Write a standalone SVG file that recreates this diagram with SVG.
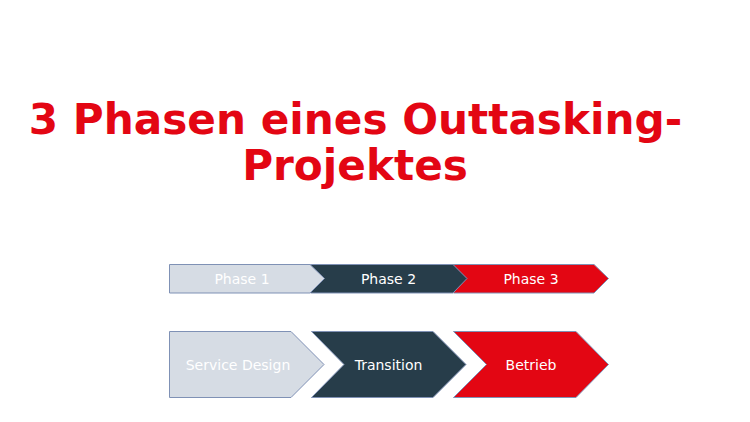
<svg xmlns="http://www.w3.org/2000/svg" width="750" height="422" viewBox="0 0 750 422">
<style>
.title{font-family:"DejaVu Sans",sans-serif;font-weight:bold;font-size:42.2px;fill:#E30613;text-anchor:middle}
.lbl{font-family:"DejaVu Sans",sans-serif;font-size:14px;fill:#FFFFFF;text-anchor:middle}
.light{fill:#D6DCE4;stroke:#7F91B5;stroke-width:1}
.dark{fill:#273D4A;stroke:#7F91B5;stroke-width:1}
.red{fill:#E30613;stroke:#7F91B5;stroke-width:1}
</style>
<rect width="750" height="422" fill="#FFFFFF"/>
<g id="title">
<text class="title" x="355.5" y="134">3 Phasen eines Outtasking-</text>
<text class="title" x="355" y="180">Projektes</text>
</g>
<g id="phase3">
<path class="red" d="M453.5,264.5 H594 L608.5,278.5 L594,293 H453.5 Z"/>
<text class="lbl" x="531" y="284">Phase 3</text>
</g>
<g id="phase2">
<path class="dark" d="M310.5,264.5 H453 L467,278.5 L453,293 H310.5 Z"/>
<text class="lbl" x="388.5" y="284">Phase 2</text>
</g>
<g id="phase1">
<path class="light" d="M169.5,264.5 H310 L324.5,278.5 L310,293 H169.5 Z"/>
<text class="lbl" x="242" y="284">Phase 1</text>
</g>
<g id="service-design">
<path class="light" d="M169.5,331.5 H291 L324,364.5 L291,397.5 H169.5 Z"/>
<text class="lbl" x="238" y="370">Service Design</text>
</g>
<g id="transition">
<path class="dark" d="M311.5,331.5 H433 L466,364.5 L433,397.5 H311.5 L344,364.5 Z"/>
<text class="lbl" x="388.5" y="370">Transition</text>
</g>
<g id="betrieb">
<path class="red" d="M453.5,331.5 H576 L608.5,364.5 L576,397.5 H453.5 L486.5,364.5 Z"/>
<text class="lbl" x="531" y="370">Betrieb</text>
</g>
<g id="connectors"></g>
</svg>
